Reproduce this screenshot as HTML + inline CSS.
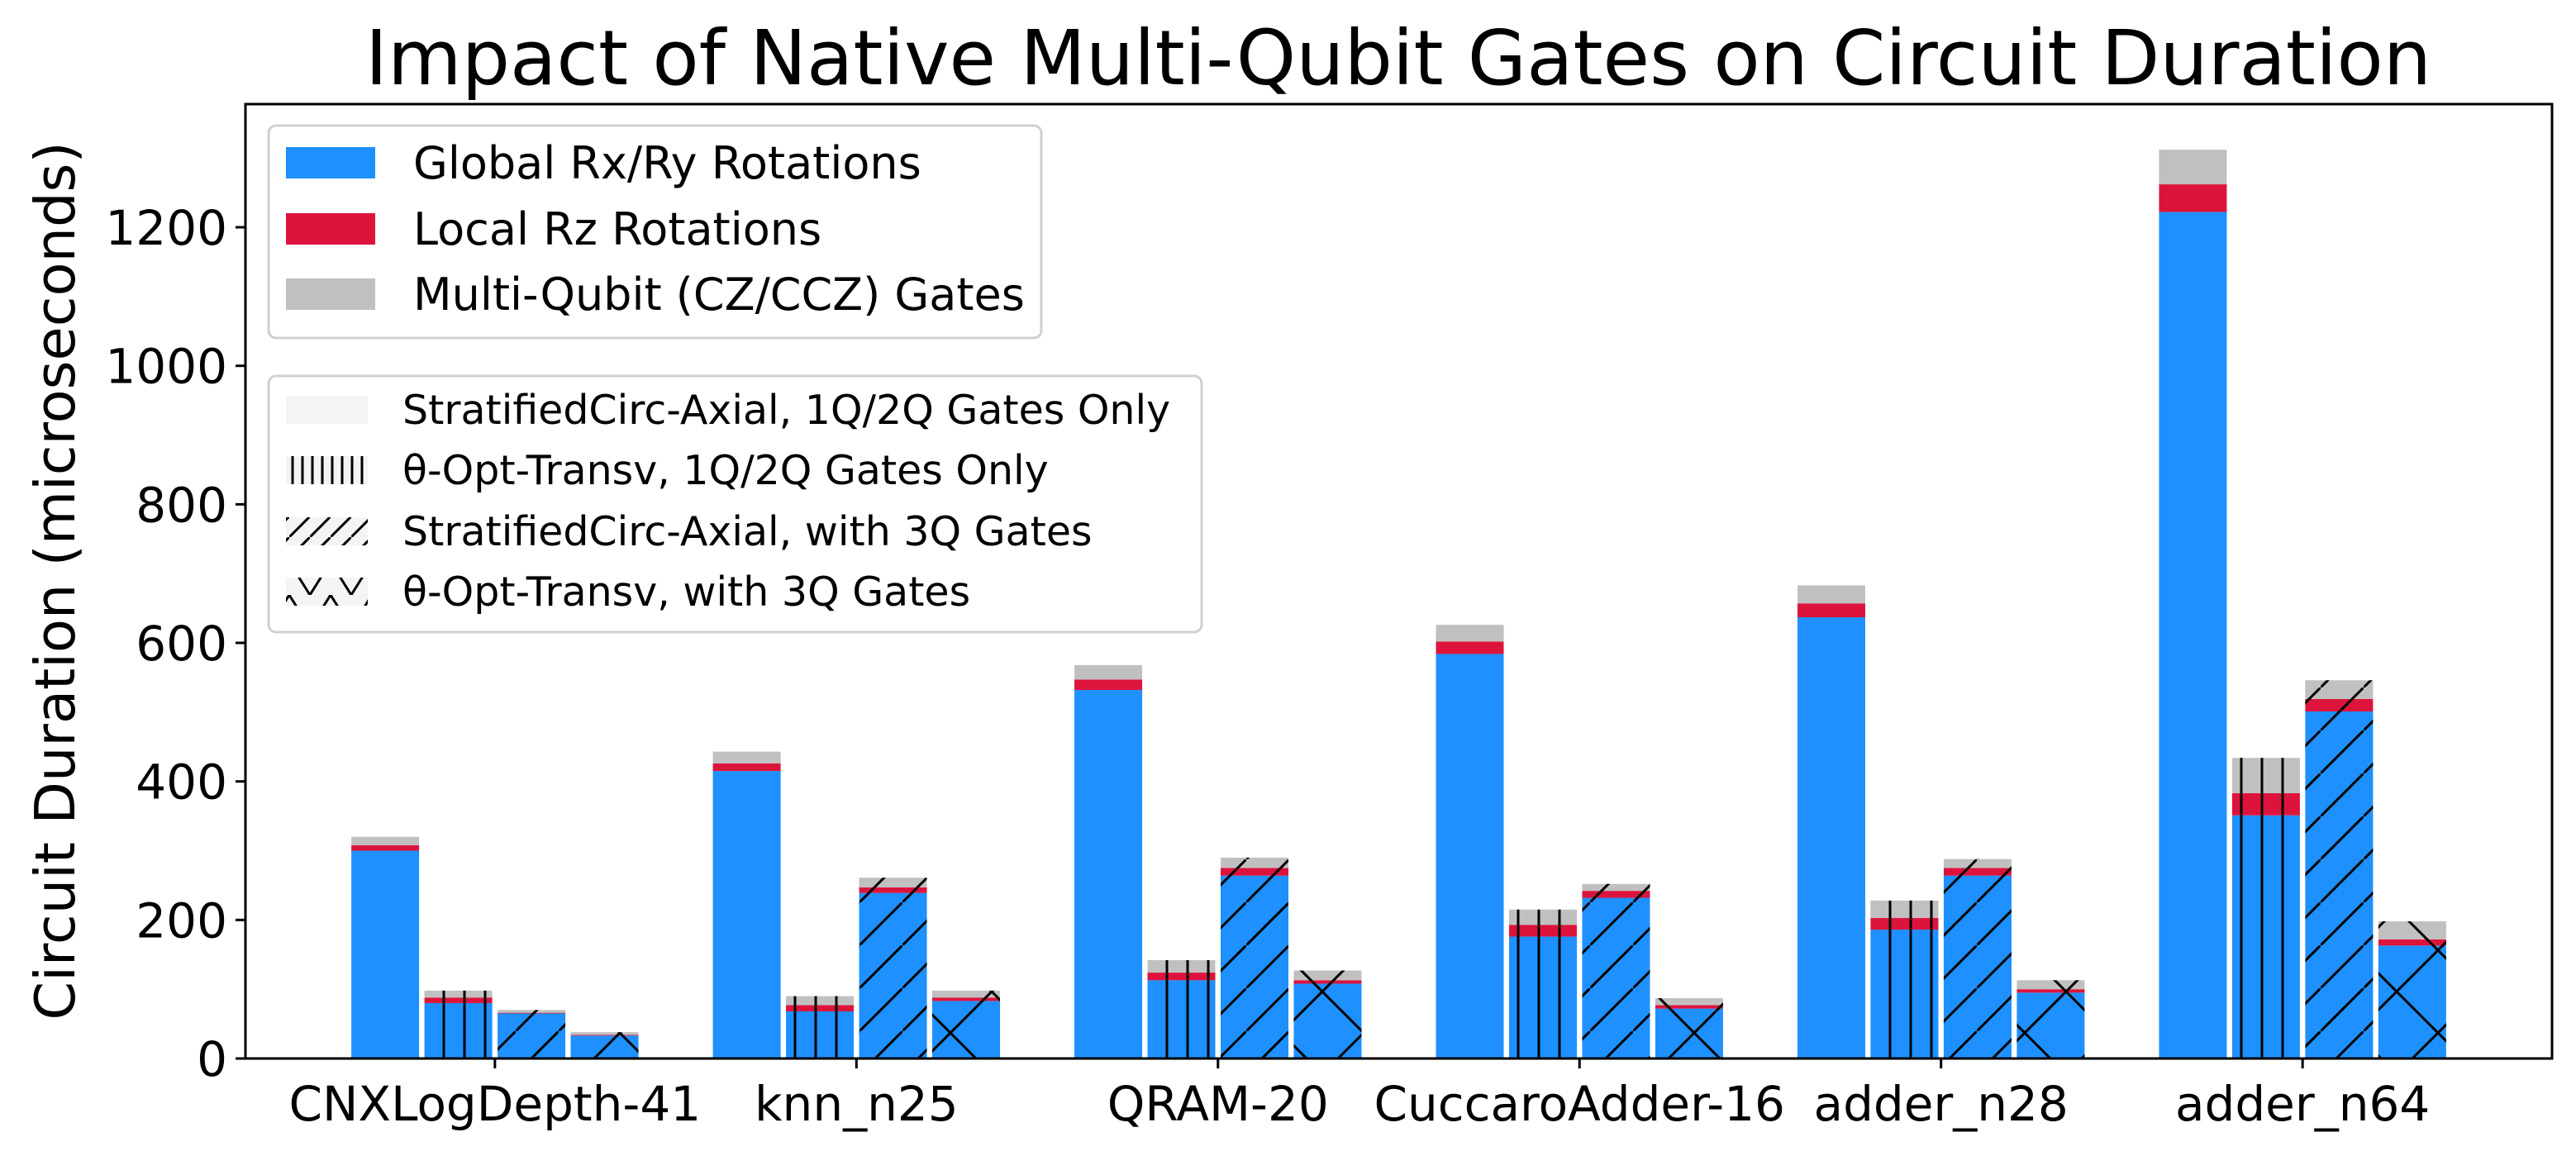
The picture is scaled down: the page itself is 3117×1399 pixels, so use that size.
<!DOCTYPE html>
<html><head><meta charset="utf-8">
<style>
html,body{margin:0;padding:0;background:#fff;}
svg{display:block;font-family:"DejaVu Sans","Liberation Sans",sans-serif;}
</style></head>
<body>
<svg id="chart" width="3117" height="1399" viewBox="0 0 3117 1399" xmlns="http://www.w3.org/2000/svg">
<defs>
<pattern id="hv" patternUnits="userSpaceOnUse" width="25" height="25" x="0"><line x1="12" y1="0" x2="12" y2="25" stroke="#000" stroke-width="3"/></pattern>
<pattern id="hd" patternUnits="userSpaceOnUse" width="52" height="52"><line x1="-5" y1="57" x2="57" y2="-5" stroke="#000" stroke-width="3"/></pattern>
<pattern id="hx" patternUnits="userSpaceOnUse" width="100" height="100"><line x1="-5" y1="105" x2="105" y2="-5" stroke="#000" stroke-width="3"/><line x1="-5" y1="-5" x2="105" y2="105" stroke="#000" stroke-width="3"/></pattern>
<pattern id="lv" patternUnits="userSpaceOnUse" width="12" height="12"><line x1="6" y1="0" x2="6" y2="12" stroke="#000" stroke-width="3"/></pattern>
<pattern id="ld" patternUnits="userSpaceOnUse" width="25" height="25"><line x1="-3" y1="28" x2="28" y2="-3" stroke="#000" stroke-width="3"/></pattern>
<pattern id="lx" patternUnits="userSpaceOnUse" width="50" height="40"><line x1="0" y1="0" x2="25" y2="40" stroke="#000" stroke-width="3"/><line x1="25" y1="40" x2="50" y2="0" stroke="#000" stroke-width="3"/></pattern>
</defs>
<text x="1692" y="102" font-size="92" text-anchor="middle">Impact of Native Multi-Qubit Gates on Circuit Duration</text>
<text transform="translate(90,703) rotate(-90)" font-size="67" text-anchor="middle">Circuit Duration (microseconds)</text>
<g id="bars"></g>
<g id="axes"></g>
<g>
<rect x="325" y="152" width="935" height="257" rx="9" fill="#fff" fill-opacity="0.8" stroke="#d0d0d0" stroke-width="3"/>
<g><rect x="346" y="178" width="108" height="38" fill="#1E90FF"/><text x="500" y="216" font-size="54">Global Rx/Ry Rotations</text></g>
<g><rect x="346" y="258" width="108" height="38" fill="#DC143C"/><text x="500" y="296" font-size="54">Local Rz Rotations</text></g>
<g><rect x="346" y="337" width="108" height="38" fill="#C0C0C0"/><text x="500" y="375" font-size="54">Multi-Qubit (CZ/CCZ) Gates</text></g>
</g>
<g>
<rect x="325" y="455" width="1129" height="310" rx="9" fill="#fff" fill-opacity="0.8" stroke="#d0d0d0" stroke-width="3"/>
<g><rect x="346" y="479" width="99" height="34" fill="#f4f4f4"/><text x="487" y="513" font-size="49">StratifiedCirc-Axial, 1Q/2Q Gates Only</text></g>
<g><rect x="346" y="552" width="99" height="34" fill="#f4f4f4"/><rect x="346" y="552" width="99" height="34" fill="url(#lv)"/><text x="487" y="586" font-size="49">θ-Opt-Transv, 1Q/2Q Gates Only</text></g>
<g><rect x="346" y="626" width="99" height="34" fill="#f4f4f4"/><rect x="346" y="626" width="99" height="34" fill="url(#ld)"/><text x="487" y="660" font-size="49">StratifiedCirc-Axial, with 3Q Gates</text></g>
<g><rect x="346" y="699" width="99" height="34" fill="#f4f4f4"/><rect x="346" y="699" width="99" height="34" fill="url(#lx)"/><text x="487" y="733" font-size="49">θ-Opt-Transv, with 3Q Gates</text></g>
</g>
</svg>
<script>
const categories = ["CNXLogDepth-41","knn_n25","QRAM-20","CuccaroAdder-16","adder_n28","adder_n64"];
const yTicks = [0,200,400,600,800,1000,1200];
const stratGlobal = [300,415,532,584,637,1222];
const stratLocal  = [8,11,15,18,20,40];
const stratMulti  = [12,17,21,24,26,50];
const thetaGlobal = [80,68,113,176,186,351];
const thetaLocal  = [8,9,11,17,17,32];
const thetaMulti  = [10,13,18,22,25,51];
const strat3Global = [65,239,264,232,264,501];
const strat3Local  = [1,8,11,10,11,18];
const strat3Multi  = [4,14,15,10,13,27];
const theta3Global = [33,83,108,72,95,163];
const theta3Local  = [1,5,5,5,5,9];
const theta3Multi  = [4,10,14,10,13,26];

const NS = "http://www.w3.org/2000/svg";
const X0 = 297, X1 = 3088, Y0 = 1281, YT = 126;
const xMin = -0.69, xMax = 5.69, yMax = (Y0 - YT) / 0.8383;
function xs(v){ return X0 + (v - xMin) / (xMax - xMin) * (X1 - X0); }
function ys(v){ return Y0 - v / yMax * (Y0 - YT); }
const step = 88.5 / 437.6, barW = 82;

function mk(tag, attrs, parent){
  const e = document.createElementNS(NS, tag);
  for (const k in attrs) e.setAttribute(k, attrs[k]);
  parent.appendChild(e);
  return e;
}
const bars = document.getElementById('bars');
const methods = [
  {g:stratGlobal,l:stratLocal,m:stratMulti,hatch:null,name:'strat-2q'},
  {g:thetaGlobal,l:thetaLocal,m:thetaMulti,hatch:'hv',name:'theta-2q'},
  {g:strat3Global,l:strat3Local,m:strat3Multi,hatch:'hd',name:'strat-3q'},
  {g:theta3Global,l:theta3Local,m:theta3Multi,hatch:'hx',name:'theta-3q'}
];
const colors = ['#1E90FF','#DC143C','#C0C0C0'];
methods.forEach((mt, j) => {
  categories.forEach((c, i) => {
    const cx = xs(i + (j - 1.5) * step);
    const vals = [mt.g[i], mt.l[i], mt.m[i]];
    let base = 0;
    vals.forEach((v, k) => {
      const r = mk('rect', {x: cx - barW/2, y: ys(base + v), width: barW, height: ys(base) - ys(base + v), fill: colors[k]}, bars);
      
      
      base += v;
    });
    if (mt.hatch) {
      const h = mk('rect', {x: cx - barW/2, y: ys(base), width: barW, height: ys(0) - ys(base), fill: 'url(#' + mt.hatch + ')'}, bars);
      
      
    }
  });
});
const axes = document.getElementById('axes');
const frame = mk('rect', {x: X0, y: YT, width: X1 - X0, height: Y0 - YT, fill: 'none', stroke: '#000', 'stroke-width': 3}, axes);


yTicks.forEach(t => {
  const l = mk('line', {x1: X0 - 12, x2: X0, y1: ys(t), y2: ys(t), stroke: '#000', 'stroke-width': 3}, axes);
  
  
  const tx = mk('text', {x: X0 - 22, y: ys(t) + 21, 'font-size': 58, 'text-anchor': 'end'}, axes);
  tx.textContent = t;
  
  
});
categories.forEach((c, i) => {
  const l = mk('line', {x1: xs(i), x2: xs(i), y1: Y0, y2: Y0 + 12, stroke: '#000', 'stroke-width': 3}, axes);
  
  
  const tx = mk('text', {x: xs(i), y: Y0 + 75, 'font-size': 58, 'text-anchor': 'middle'}, axes);
  tx.textContent = c;
  
  
});
</script>
</body></html>
